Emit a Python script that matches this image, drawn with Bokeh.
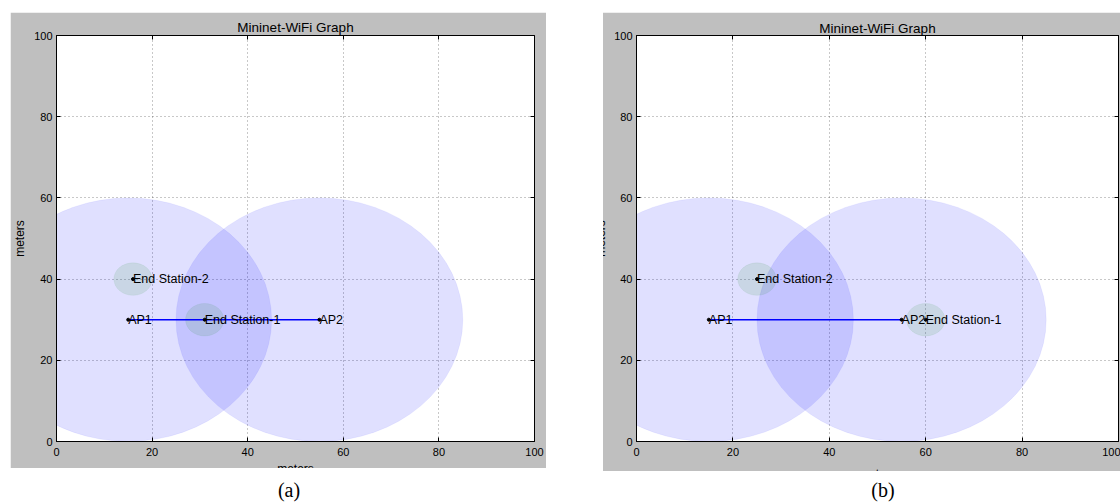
from bokeh.plotting import figure
from bokeh.models import Range1d, FixedTicker, LinearAxis, Div, Spacer, ColumnDataSource
from bokeh.layouts import row, column
from bokeh.core.properties import value
from bokeh.embed import file_html
from bokeh.resources import INLINE

# ---------------- data ----------------
TITLE = "Mininet-WiFi Graph"
AXIS_LABEL = "meters"
TICKS = [0, 20, 40, 60, 80, 100]

AP_NAMES = ["AP1", "AP2"]
AP_X = [15, 55]
AP_Y = [30, 30]
AP_RANGE = [30, 30]

STA_NAMES = ["End Station-1", "End Station-2"]
STA_X_A = [31, 16]
STA_Y_A = [30, 40]
STA_X_B = [60, 25]
STA_Y_B = [30, 40]
STA_RANGE = [4, 4]

CAPTIONS = ["(a)", "(b)"]

# ---------------- style ----------------
FONT = "Liberation Sans"
GRAY = "#bfbfbf"


def make_panel(sta_x, sta_y, width, height, borders, clip, title_standoff,
               xlab_standoff, ylab_standoff):
    l, r, t, b = borders
    p = figure(width=width, height=height,
               x_range=Range1d(0, 100), y_range=Range1d(0, 100),
               output_backend="svg", toolbar_location=None, tools="",
               min_border_left=l, min_border_right=r,
               min_border_top=t, min_border_bottom=b,
               border_fill_color=GRAY, background_fill_color="white",
               outline_line_color="black", outline_line_width=1,
               styles={"clip-path": clip})

    p.title.text = TITLE
    p.title.align = "center"
    p.title.text_font = FONT
    p.title.text_font_size = "13.5px"
    p.title.text_font_style = "normal"
    p.title.text_color = "black"
    p.title.standoff = title_standoff

    ticker = FixedTicker(ticks=TICKS)
    p.xaxis.ticker = ticker
    p.yaxis.ticker = ticker
    for ax in [p.xaxis, p.yaxis]:
        ax.axis_line_color = "black"
        ax.major_tick_in = 4
        ax.major_tick_out = 0
        ax.minor_tick_in = 0
        ax.minor_tick_out = 0
        ax.major_tick_line_color = "black"
        ax.major_label_text_font = FONT
        ax.major_label_text_font_size = "11px"
        ax.major_label_text_color = "black"
        ax.axis_label = AXIS_LABEL
        ax.axis_label_text_font = FONT
        ax.axis_label_text_font_size = "12px"
        ax.axis_label_text_font_style = "normal"
        ax.axis_label_text_color = "black"
    p.xaxis.major_label_standoff = 6
    p.yaxis.major_label_standoff = 4
    p.xaxis.axis_label_standoff = xlab_standoff
    p.yaxis.axis_label_standoff = ylab_standoff

    blank = {tk: "" for tk in TICKS}
    for side in ["above", "right"]:
        ax = LinearAxis(ticker=ticker, major_label_overrides=blank,
                        major_label_text_font_size="0px",
                        major_tick_in=4, major_tick_out=0,
                        minor_tick_in=0, minor_tick_out=0,
                        axis_line_color=None, major_label_standoff=0)
        p.add_layout(ax, side)

    p.xgrid.ticker = ticker
    p.ygrid.ticker = ticker
    p.grid.grid_line_color = "black"
    p.grid.grid_line_alpha = 0.55
    p.grid.grid_line_width = 0.8
    p.grid.grid_line_dash = "1 3"

    # AP ranges
    p.ellipse(x=AP_X, y=AP_Y, width=[2 * v for v in AP_RANGE], height=[2 * v for v in AP_RANGE],
              fill_color="blue", fill_alpha=0.12, line_color="blue", line_alpha=0.05)
    # station ranges
    p.ellipse(x=sta_x, y=sta_y, width=[2 * v for v in STA_RANGE], height=[2 * v for v in STA_RANGE],
              fill_color="green", fill_alpha=0.1, line_color="green", line_alpha=0.05)
    # AP link
    p.line(x=AP_X, y=AP_Y, line_color="blue", line_width=1.6)

    src = ColumnDataSource(dict(x=AP_X + list(sta_x), y=AP_Y + list(sta_y),
                                name=AP_NAMES + STA_NAMES))
    p.scatter(x="x", y="y", source=src, size=3, color="black")
    p.text(x="x", y="y", text="name", source=src, text_font=value(FONT),
           text_font_size="12.5px", text_color="black",
           text_align="left", text_baseline="alphabetic")
    return p


# panel (a): canvas x 10..546, y 12..489 (visible gray to 468)
fig_a = make_panel(STA_X_A, STA_Y_A, 536, 477, (43, 12, 23, 48),
                   clip="inset(0px 0px 21px 0px)", title_standoff=2,
                   xlab_standoff=3, ylab_standoff=4)
# panel (b): canvas x 590..1120, y 12..489 (visible gray from x 603, to y 471)
fig_b = make_panel(STA_X_B, STA_Y_B, 530, 477, (46, 2, 21, 46),
                   clip="inset(0px 0px 18px 13px)", title_standoff=0,
                   xlab_standoff=8, ylab_standoff=3)

cap_style = {"font-family": "Liberation Serif", "font-size": "20px",
             "line-height": "13px", "text-align": "center", "color": "black",
             "transform": "translateY(-10px)"}
div_a = Div(text=CAPTIONS[0], width=60, height=13, styles=cap_style)
div_b = Div(text=CAPTIONS[1], width=60, height=13, styles=cap_style)

layout = column(
    Spacer(height=12),
    row(Spacer(width=10), fig_a, Spacer(width=44), fig_b),
    row(Spacer(width=254), div_a, Spacer(width=524), div_b),
)

open("out.html", "w").write(file_html(layout, INLINE))
